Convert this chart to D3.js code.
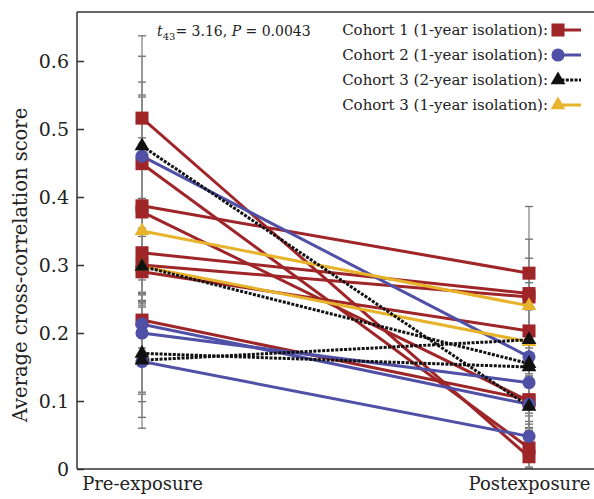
<!DOCTYPE html>
<html>
<head>
<meta charset="utf-8">
<script src="https://cdn.jsdelivr.net/npm/d3@7/dist/d3.min.js"></script>
<style>
  html, body { margin: 0; padding: 0; background: #fff; }
  svg { display: block; }
  text { font-family: "DejaVu Serif", serif; fill: #222; }
</style>
</head>
<body>
<svg id="chart" width="594" height="499"></svg>
<script>
// ---------- DATA ----------
const categories = ["Pre-exposure", "Postexposure"];
const yTicks = [0, 0.1, 0.2, 0.3, 0.4, 0.5, 0.6];

const legendLabels = [
  "Cohort 1 (1-year isolation):",
  "Cohort 2 (1-year isolation):",
  "Cohort 3 (2-year isolation):",
  "Cohort 3 (1-year isolation):"
];

// Cohort 1 (1-year isolation)
const cohort1Pre      = [0.516, 0.449, 0.387, 0.378, 0.318, 0.300, 0.290, 0.219];
const cohort1Post     = [0.018, 0.031, 0.288, 0.100, 0.258, 0.253, 0.203, 0.102];
const cohort1PreErr   = [0.121, 0.158, 0.160, 0.100, 0.060, 0.054, 0.052, 0.041];
const cohort1PostErr  = [0.015, 0.030, 0.098, 0.040, 0.080, 0.057, 0.050, 0.050];

// Cohort 2 (1-year isolation)
const cohort2Pre      = [0.460, 0.213, 0.200, 0.158];
const cohort2Post     = [0.165, 0.095, 0.127, 0.048];
const cohort2PreErr   = [0.090, 0.100, 0.090, 0.098];
const cohort2PostErr  = [0.083, 0.040, 0.070, 0.030];

// Cohort 3 (2-year isolation)
const cohort3aPre     = [0.475, 0.298, 0.170, 0.160];
const cohort3aPost    = [0.092, 0.155, 0.150, 0.190];
const cohort3aPreErr  = [0.094, 0.100, 0.071, 0.084];
const cohort3aPostErr = [0.040, 0.085, 0.084, 0.060];

// Cohort 3 (1-year isolation)
const cohort3bPre     = [0.350, 0.298];
const cohort3bPost    = [0.240, 0.187];
const cohort3bPreErr  = [0.137, 0.050];
const cohort3bPostErr = [0.034, 0.050];

const annotation = { t: "t", sub: "43", mid: "= 3.16, ", p: "P", end: " = 0.0043" };
const yTitle = "Average cross-correlation score";

// ---------- BUILD ----------
(function () {
const series = [
  { name: legendLabels[0], pre: cohort1Pre, post: cohort1Post, preErr: cohort1PreErr, postErr: cohort1PostErr,
    color: "#9e2528", shape: "square", dash: null },
  { name: legendLabels[1], pre: cohort2Pre, post: cohort2Post, preErr: cohort2PreErr, postErr: cohort2PostErr,
    color: "#4f50a6", shape: "circle", dash: null },
  { name: legendLabels[3], pre: cohort3bPre, post: cohort3bPost, preErr: cohort3bPreErr, postErr: cohort3bPostErr,
    color: "#e6b32a", shape: "triangle", dash: null },
  { name: legendLabels[2], pre: cohort3aPre, post: cohort3aPost, preErr: cohort3aPreErr, postErr: cohort3aPostErr,
    color: "#111111", shape: "triangle", dash: "3,1.4" }
];

const svg = d3.select("#chart");
const mLeft = 77, mBottom = 469, mTop = 12, mRight = 594;

const x = d3.scalePoint().domain(categories).range([142, 529]);
const y = d3.scaleLinear().domain([0, 0.6]).range([mBottom, 61]);

const symbols = {
  square: d3.symbol().type(d3.symbolSquare).size(170),
  circle: d3.symbol().type(d3.symbolCircle).size(135),
  triangle: d3.symbol().type(d3.symbolTriangle).size(95)
};

// error bars
const errG = svg.append("g");
series.forEach(s => {
  [["pre", "preErr", categories[0]], ["post", "postErr", categories[1]]].forEach(([k, ek, cat]) => {
    s[k].forEach((v, i) => {
      const e = s[ek][i];
      const cx = x(cat);
      errG.append("line").attr("x1", cx).attr("x2", cx)
        .attr("y1", y(v - e)).attr("y2", y(v + e))
        .attr("stroke", "#8a8a8a").attr("stroke-width", 1.3);
      [v - e, v + e].forEach(c => {
        errG.append("line").attr("x1", cx - 4).attr("x2", cx + 4)
          .attr("y1", y(c)).attr("y2", y(c))
          .attr("stroke", "#6f6f6f").attr("stroke-width", 1.3);
      });
    });
  });
});

// axes frame
svg.append("line").attr("x1", mLeft).attr("x2", mLeft).attr("y1", mTop).attr("y2", mBottom)
  .attr("stroke", "#333").attr("stroke-width", 1.5);
svg.append("line").attr("x1", mLeft).attr("x2", mRight).attr("y1", mBottom).attr("y2", mBottom)
  .attr("stroke", "#333").attr("stroke-width", 1.5);
svg.append("line").attr("x1", mLeft).attr("x2", mRight).attr("y1", mTop).attr("y2", mTop)
  .attr("stroke", "#333").attr("stroke-width", 1.5);

const yAxis = d3.axisLeft(y).tickValues(yTicks)
  .tickFormat(d => d === 0 ? "0" : d3.format(".1f")(d))
  .tickSize(-7).tickPadding(8);
const gy = svg.append("g").attr("transform", `translate(${mLeft},0)`).call(yAxis);
gy.select(".domain").remove();
gy.selectAll(".tick line").attr("stroke", "#333").attr("stroke-width", 1.5);
gy.selectAll(".tick text").style("font-family", "DejaVu Serif, serif").style("font-size", "19px").attr("fill", "#222");

const xAxis = d3.axisBottom(x).tickSize(0).tickPadding(8);
const gx = svg.append("g").attr("transform", `translate(0,${mBottom})`).call(xAxis);
gx.select(".domain").remove();
gx.selectAll(".tick text").style("font-family", "DejaVu Serif, serif").style("font-size", "18px").attr("fill", "#222");

// y title
svg.append("text")
  .attr("transform", `translate(20,${y(0.30)}) rotate(-90)`)
  .attr("text-anchor", "middle")
  .attr("dy", "0.35em")
  .style("font-size", "19.5px")
  .text(yTitle);

// lines
const lineG = svg.append("g");
series.forEach(s => {
  s.pre.forEach((v, i) => {
    lineG.append("line")
      .attr("x1", x(categories[0])).attr("y1", y(v))
      .attr("x2", x(categories[1])).attr("y2", y(s.post[i]))
      .attr("stroke", s.color).attr("stroke-width", 3)
      .attr("stroke-dasharray", s.dash);
  });
});

// markers
const markG = svg.append("g");
series.forEach(s => {
  [["pre", categories[0]], ["post", categories[1]]].forEach(([k, cat]) => {
    s[k].forEach(v => {
      markG.append("path")
        .attr("d", symbols[s.shape]())
        .attr("transform", `translate(${x(cat)},${y(v)})`)
        .attr("fill", s.color);
    });
  });
});

// annotation
const ann = svg.append("text").attr("x", 157).attr("y", 36).style("font-size", "14px");
ann.append("tspan").style("font-style", "italic").text(annotation.t);
ann.append("tspan").attr("dy", 4).style("font-size", "10px").text(annotation.sub);
ann.append("tspan").attr("dy", -4).text(annotation.mid);
ann.append("tspan").style("font-style", "italic").text(annotation.p);
ann.append("tspan").text(annotation.end);

// legend
const legendOrder = [series[0], series[1], series[3], series[2]];
const lg = svg.append("g");
legendOrder.forEach((s, i) => {
  const ly = 30 + i * 25;
  lg.append("text").attr("x", 548).attr("y", ly + 5).attr("text-anchor", "end")
    .style("font-size", "15px").text(s.name);
  lg.append("line").attr("x1", 557).attr("x2", 581).attr("y1", ly).attr("y2", ly)
    .attr("stroke", s.color).attr("stroke-width", 3).attr("stroke-dasharray", s.dash);
  lg.append("path").attr("d", symbols[s.shape]())
    .attr("transform", `translate(558,${ly})`).attr("fill", s.color);
});
})();
</script>
</body>
</html>
